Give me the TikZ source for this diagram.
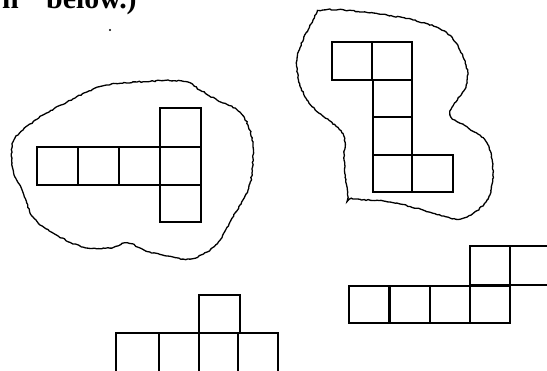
\documentclass[tikz,border=0pt]{standalone}
\usepackage{fontspec}
\setmainfont{Liberation Serif}
\usetikzlibrary{decorations.pathmorphing}
\tikzset{
  cell/.style={draw=black, line width=1.6bp},
  blob/.style={draw=black, line width=1.3bp, decorate,
    decoration={random steps, segment length=2.2bp, amplitude=0.6bp}},
  txt/.style={inner sep=0pt, anchor=base west, font=\fontsize{30}{30}\selectfont\bfseries}
}
\begin{document}
\begin{tikzpicture}[x=1bp, y=-1bp]
\useasboundingbox (0,0) rectangle (547,370);
\clip (0,0) rectangle (547,370);
% clipped text at top
\node[txt] (t1) at (2,8) {n};
\node[txt] (t2) at (46,8) {below.)};
\fill (110,30) circle (1.1bp);
% left blob
\draw[blob] plot[smooth cycle, tension=0.6] coordinates {
 (137,82) (182,81) (200,90) (217,100) (237,110) (248,125) (253,147)
 (252,173) (248,190) (240,205) (230,222) (220,240) (207,252) (190,259)
 (173,257) (150,252) (140,248) (127,243) (110,248) (83,247) (53,233)
 (33,217) (22,190) (15,177) (12,163) (13,142) (23,130) (43,115)
 (67,102) (87,92) (107,85)};
% left shape
\foreach \x in {37,78,119,160} \draw[cell] (\x,147) rectangle ++(41,38);
\draw[cell] (160,108) rectangle (201,147);
\draw[cell] (160,185) rectangle (201,222);
% right blob
\draw[blob] plot[smooth cycle, tension=0.6] coordinates {
 (323,10) (363,12) (413,20) (447,33) (463,57) (467,83) (450,113)
 (467,127) (487,143) (493,173) (487,200) (467,217) (450,218) (423,210)
 (390,202) (353,199) (348,197) (344,160) (342,133) (307,100) (297,60) (313,20)};
% right shape
\draw[cell] (332,42) rectangle (372,80);
\draw[cell] (372,42) rectangle (412,80);
\draw[cell] (373,80) rectangle (412,117);
\draw[cell] (373,117) rectangle (412,155);
\draw[cell] (373,155) rectangle (412,192);
\draw[cell] (412,155) rectangle (453,192);
% bottom right shape
\foreach \x in {349,390,430,470} \draw[cell] (\x,286) rectangle ++(40,37);
\draw[cell] (470,246) rectangle (510,285);
\draw[cell] (510,246) rectangle (552,285);
% bottom shape
\foreach \x/\w in {116/43,159/40,199/39,238/40} \draw[cell] (\x,333) rectangle ++(\w,45);
\draw[cell] (199,295) rectangle (240,333);
\end{tikzpicture}
\end{document}
